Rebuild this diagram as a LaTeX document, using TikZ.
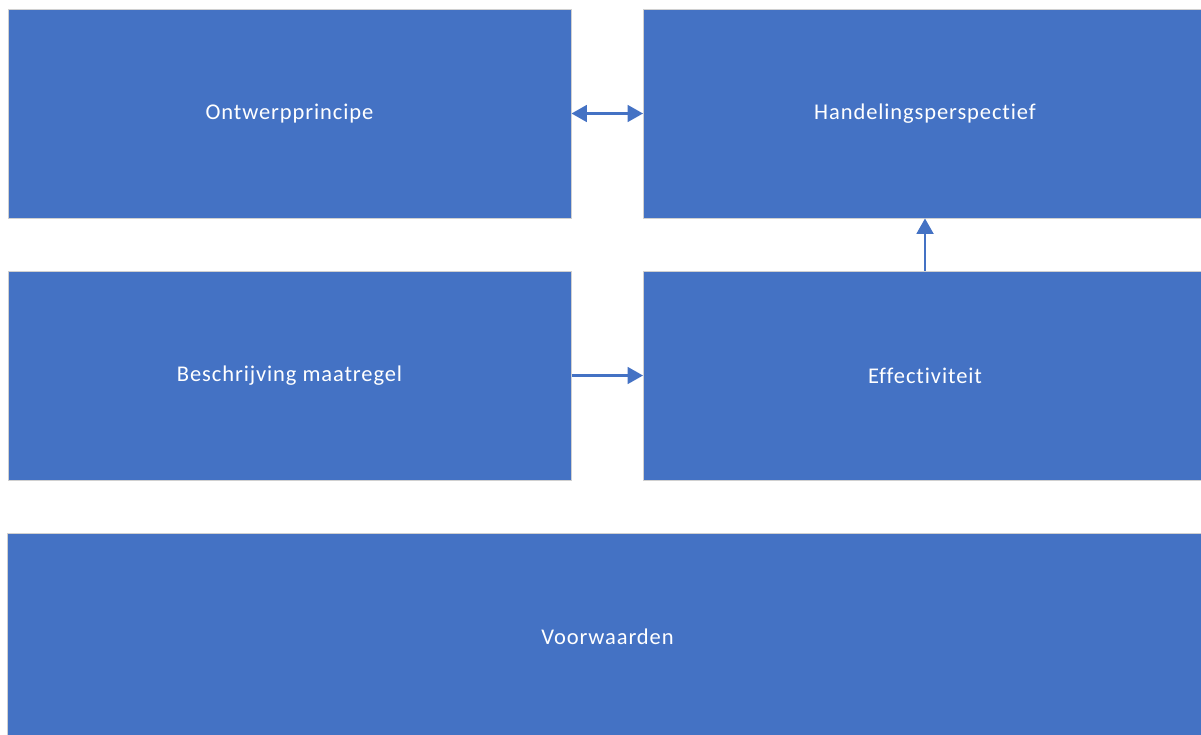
\documentclass[tikz,border=0pt]{standalone}
\usepackage{fontspec}
\setmainfont{Carlito}[LetterSpace=4, Ligatures=NoCommon]
\usetikzlibrary{arrows.meta}
\definecolor{boxblue}{HTML}{4472C4}
\definecolor{edgegray}{HTML}{D0D0D0}

\begin{document}
\begin{tikzpicture}[x=0.025cm, y=-0.025cm]
      \tikzstyle{block} = [rectangle, draw=edgegray, line width=0.6pt, fill=boxblue, text=white, font=\fontsize{16}{19}\selectfont]
      \tikzstyle{small} = [block, minimum width=14.075cm, minimum height=5.225cm]
      \tikzstyle{arrow} = [line width=1.6pt, draw=boxblue, -{Triangle[length=11pt, width=12pt]}]
      \tikzstyle{both} = [arrow, {Triangle[length=11pt, width=12pt]}-{Triangle[length=11pt, width=12pt]}]

      \useasboundingbox (0,0) rectangle (1201,735);
      \clip (0,0) rectangle (1201,735);

      \node[small] (ontwerp) at (289.5, 113.5) {Ontwerpprincipe};
      \node[small] (handeling) at (925, 113.5) {Handelingsperspectief};
      \node[small] (beschrijving) at (289.5, 375.5) {Beschrijving maatregel};
      \node[small] (effect) at (925, 375.5) {Effectiviteit};
      \node[block, minimum width=29.975cm, minimum height=5.2cm] (voorwaarden) at (607.5, 637) {Voorwaarden};

      \draw [both] (ontwerp) -- (handeling);
      \draw [arrow] (beschrijving) -- (effect);
      \draw [arrow] (effect) -- (handeling);
\end{tikzpicture}
\end{document}
